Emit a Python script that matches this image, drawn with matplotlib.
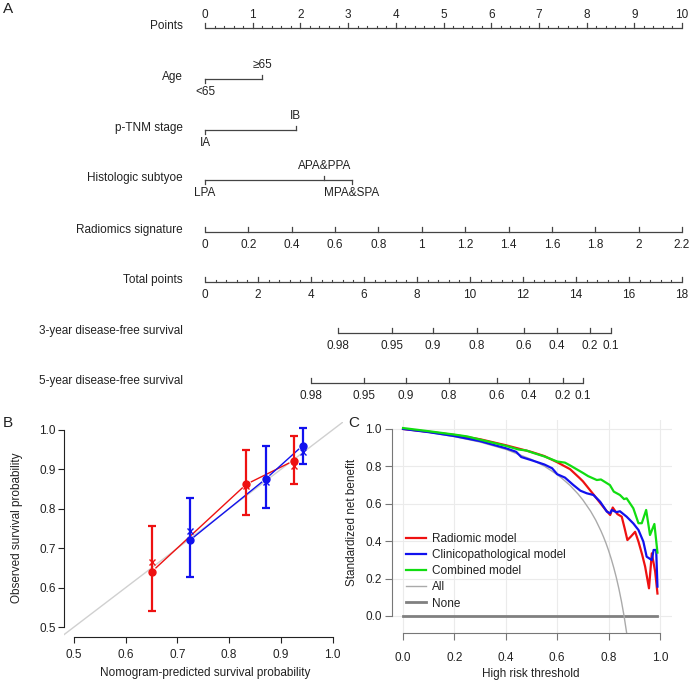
import matplotlib.pyplot as plt
import numpy as np

plt.rcParams['font.family'] = ['Liberation Sans', 'DejaVu Sans']
plt.rcParams['text.color'] = '#222222'
plt.rcParams['xtick.color'] = '#222222'
plt.rcParams['ytick.color'] = '#222222'

# ---------------- nomogram (A) ----------------
point_ticks = list(range(0, 11))
age_levels = ['<65', '≥65']
age_points = [0, 1.2]
tnm_levels = ['IA', 'IB']
tnm_points = [0, 1.9]
hist_levels = ['LPA', 'APA&PPA', 'MPA&SPA']
hist_points = [0, 2.5, 3.08]
rad_ticks = [0, 0.2, 0.4, 0.6, 0.8, 1, 1.2, 1.4, 1.6, 1.8, 2, 2.2]
rad_max = 2.2
rad_max_points = 10
total_ticks = [0, 2, 4, 6, 8, 10, 12, 14, 16, 18]
total_max = 18
dfs_labels = ['0.98', '0.95', '0.9', '0.8', '0.6', '0.4', '0.2', '0.1']
dfs3_total = [5.02, 7.06, 8.60, 10.26, 12.04, 13.28, 14.53, 15.32]
dfs5_total = [4.0, 6.0, 7.58, 9.21, 11.02, 12.23, 13.51, 14.26]

# ---------------- calibration (B) ----------------
red_pred = [0.651, 0.833, 0.925]
red_obs = [0.641, 0.862, 0.922]
red_lo = [0.541, 0.783, 0.864]
red_hi = [0.756, 0.949, 0.985]
red_corr = [0.665, 0.857, 0.908]
blue_pred = [0.724, 0.871, 0.942]
blue_obs = [0.720, 0.876, 0.960]
blue_lo = [0.626, 0.802, 0.914]
blue_hi = [0.828, 0.960, 1.006]
blue_corr = [0.743, 0.868, 0.945]

# ---------------- decision curves (C) ----------------
rad_x = [0, 0.1, 0.2, 0.3, 0.4, 0.45, 0.5, 0.55, 0.6, 0.65, 0.689, 0.7, 0.741, 0.773,
         0.79, 0.806, 0.816, 0.826, 0.834, 0.851, 0.862, 0.873, 0.886, 0.903, 0.916,
         0.93, 0.942, 0.957, 0.968, 0.981, 0.99]
rad_y = [1.0, 0.985, 0.968, 0.945, 0.913, 0.895, 0.877, 0.855, 0.822, 0.785, 0.735,
         0.72, 0.65, 0.594, 0.565, 0.54, 0.58, 0.56, 0.545, 0.531, 0.47, 0.406, 0.424,
         0.45, 0.398, 0.33, 0.264, 0.148, 0.335, 0.238, 0.12]
cli_x = [0, 0.1, 0.2, 0.3, 0.4, 0.44, 0.46, 0.5, 0.55, 0.58, 0.6, 0.63, 0.663, 0.69,
         0.715, 0.741, 0.767, 0.793, 0.806, 0.812, 0.83, 0.844, 0.87, 0.896, 0.916,
         0.935, 0.948, 0.968, 0.975, 0.985, 0.99]
cli_y = [1.0, 0.983, 0.962, 0.935, 0.897, 0.878, 0.85, 0.833, 0.81, 0.79, 0.758, 0.74,
         0.70, 0.67, 0.656, 0.647, 0.611, 0.558, 0.549, 0.567, 0.555, 0.56, 0.531, 0.495,
         0.46, 0.398, 0.317, 0.299, 0.353, 0.353, 0.157]
com_x = [0, 0.1, 0.2, 0.25, 0.3, 0.4, 0.45, 0.48, 0.5, 0.55, 0.6, 0.63, 0.65, 0.7, 0.72,
         0.754, 0.77, 0.805, 0.82, 0.844, 0.86, 0.87, 0.896, 0.916, 0.929, 0.946, 0.961,
         0.978, 0.99]
com_y = [1.005, 0.988, 0.97, 0.96, 0.943, 0.91, 0.89, 0.885, 0.875, 0.853, 0.826, 0.82,
         0.805, 0.765, 0.748, 0.727, 0.73, 0.70, 0.665, 0.647, 0.625, 0.629, 0.576, 0.496,
         0.496, 0.567, 0.433, 0.492, 0.339]
all_x = [0, 0.1, 0.2, 0.3, 0.4, 0.5, 0.55, 0.6, 0.62, 0.65, 0.68, 0.7, 0.73, 0.75, 0.77,
         0.78, 0.79, 0.8, 0.81, 0.82, 0.83, 0.84, 0.85, 0.86, 0.87, 0.875]
all_y = [1.0, 0.982, 0.959, 0.930, 0.891, 0.837, 0.801, 0.756, 0.734, 0.698, 0.654, 0.620,
         0.560, 0.512, 0.455, 0.423, 0.388, 0.349, 0.306, 0.258, 0.205, 0.145, 0.077, 0.0,
         -0.09, -0.14]
none_x = [0, 0.99]
none_y = [0, 0]
legend_labels = ['Radiomic model', 'Clinicopathological model', 'Combined model', 'All', 'None']

W, H = 691, 681
fig = plt.figure(figsize=(W / 100, H / 100), dpi=100)

# nomogram axes: x in points units, y in pixel rows
px_per_pt = 47.7
x0_px = 205
axn = fig.add_axes([0, 1 - 400 / H, 1, 400 / H])
axn.set_xlim(-x0_px / px_per_pt, (W - x0_px) / px_per_pt)
axn.set_ylim(400, 0)
axn.axis('off')

lc = '#444444'
fs = 8.5
label_x = (183 - x0_px) / px_per_pt
rows = [28, 79, 130, 180, 232, 282, 333, 383]


def row_label(y, text):
    axn.text(label_x, y - 2, text, ha='right', va='center', fontsize=fs)


def scale_axis(y, pos, labels, minor, above):
    axn.plot([min(pos), max(pos)], [y, y], color=lc, lw=0.9, solid_capstyle='butt')
    for p in pos:
        axn.plot([p, p], [y, y - 5], color=lc, lw=0.9)
    for p in minor:
        axn.plot([p, p], [y, y - 2.5], color=lc, lw=0.8)
    for p, t in zip(pos, labels):
        if above:
            axn.text(p, y - 13, t, ha='center', va='center', fontsize=fs)
        else:
            axn.text(p, y + 13, t, ha='center', va='center', fontsize=fs)


def cat_axis(y, pos, labels, up):
    axn.plot([min(pos), max(pos)], [y, y], color=lc, lw=0.9)
    for p, t, u in zip(pos, labels, up):
        if u:
            axn.plot([p, p], [y, y - 4], color=lc, lw=0.9)
            axn.text(p, y - 14, t, ha='center', va='center', fontsize=fs)
        else:
            axn.plot([p, p], [y, y + 4], color=lc, lw=0.9)
            axn.text(p, y + 13, t, ha='center', va='center', fontsize=fs)


# Points
row_label(rows[0], 'Points')
pminor = [p for p in np.arange(0, 10.01, 0.2) if abs(p - round(p)) > 1e-6]
scale_axis(rows[0], point_ticks, [str(p) for p in point_ticks], pminor, True)
# categorical
row_label(rows[1], 'Age')
cat_axis(rows[1], age_points, age_levels, [False, True])
row_label(rows[2], 'p-TNM stage')
cat_axis(rows[2], tnm_points, tnm_levels, [False, True])
row_label(rows[3], 'Histologic subtyoe')
cat_axis(rows[3], hist_points, hist_levels, [False, True, False])
# radiomics
row_label(rows[4], 'Radiomics signature')
rad_pos = [v / rad_max * rad_max_points for v in rad_ticks]
scale_axis(rows[4], rad_pos, [f'{v:g}' for v in rad_ticks], [], False)
# total points
row_label(rows[5], 'Total points')
tp_pos = [v / total_max * 10 for v in total_ticks]
tminor = [v / total_max * 10 for v in np.arange(0, 18.01, 0.4) if abs(v / 2 - round(v / 2)) > 1e-6]
scale_axis(rows[5], tp_pos, [str(v) for v in total_ticks], tminor, False)
# survival
row_label(rows[6], '3-year disease-free survival')
scale_axis(rows[6], [v / total_max * 10 for v in dfs3_total], dfs_labels, [], False)
row_label(rows[7], '5-year disease-free survival')
scale_axis(rows[7], [v / total_max * 10 for v in dfs5_total], dfs_labels, [], False)

# ---------------- B ----------------
axb = fig.add_axes([64 / W, 1 - 637 / H, 279 / W, 215 / H])
axb.set_xlim(0.481, 1.02)
axb.set_ylim(0.475, 1.02)
axb.plot([0.4, 1.1], [0.4, 1.1], color='#d0d0d0', lw=1, zorder=1)


def gapped(ax, xs, ys, color, gap=0.012):
    for i in range(len(xs) - 1):
        dx, dy = xs[i + 1] - xs[i], ys[i + 1] - ys[i]
        d = np.hypot(dx, dy)
        ux, uy = dx / d, dy / d
        ax.plot([xs[i] + ux * gap, xs[i + 1] - ux * gap],
                [ys[i] + uy * gap, ys[i + 1] - uy * gap], color=color, lw=1)


for pred, obs, lo, hi, corr, c in [(red_pred, red_obs, red_lo, red_hi, red_corr, '#ee1111'),
                                   (blue_pred, blue_obs, blue_lo, blue_hi, blue_corr, '#1111ee')]:
    obs_a = np.array(obs)
    axb.errorbar(pred, obs, yerr=[obs_a - np.array(lo), np.array(hi) - obs_a], fmt='o',
                 color=c, ms=5, elinewidth=1.6, capsize=3, capthick=1.6, zorder=3)
    axb.plot(pred, corr, 'x', color=c, ms=5, mew=1, zorder=3)
    gapped(axb, pred, obs, c)

for s in ['top', 'right']:
    axb.spines[s].set_visible(False)
axb.spines['left'].set_bounds(0.5, 1.0)
axb.spines['bottom'].set_bounds(0.5, 1.0)
axb.spines['left'].set_color('#222222')
axb.spines['bottom'].set_color('#222222')
axb.set_xticks([0.5, 0.6, 0.7, 0.8, 0.9, 1.0])
axb.set_yticks([0.5, 0.6, 0.7, 0.8, 0.9, 1.0])
axb.set_xticklabels(['0.5', '0.6', '0.7', '0.8', '0.9', '1.0'])
axb.set_yticklabels(['0.5', '0.6', '0.7', '0.8', '0.9', '1.0'])
axb.tick_params(axis='both', labelsize=8.5, length=4, color='#222222')
axb.tick_params(axis='x', pad=5)
axb.tick_params(axis='y', pad=2)
fig.text(17 / W, 1 - 528 / H, 'Observed survival probability', rotation=90,
         ha='center', va='center', fontsize=8.5)
fig.text(205 / W, 1 - 673 / H, 'Nomogram-predicted survival probability',
         ha='center', va='center', fontsize=8.5)

# ---------------- C ----------------
axc = fig.add_axes([392 / W, 1 - 633 / H, 279.6 / W, 213 / H])
axc.set_xlim(-0.043, 1.045)
axc.set_ylim(-0.091, 1.048)
grid_vals = [0, 0.2, 0.4, 0.6, 0.8, 1.0]
for g in grid_vals:
    axc.axvline(g, color='#ebebeb', lw=0.8, zorder=0)
    axc.axhline(g, color='#ebebeb', lw=0.8, zorder=0)
l_none, = axc.plot(none_x, none_y, color='#808080', lw=2, zorder=2)
l_all, = axc.plot(all_x, all_y, color='#aaaaaa', lw=1, zorder=2)
l_rad, = axc.plot(rad_x, rad_y, color='#ee1111', lw=1.6, zorder=3)
l_cli, = axc.plot(cli_x, cli_y, color='#1111ee', lw=1.6, zorder=3)
l_com, = axc.plot(com_x, com_y, color='#11dd11', lw=1.6, zorder=4)
axc.legend([l_rad, l_cli, l_com, l_all, l_none], legend_labels,
           loc='upper left', bbox_to_anchor=(406 / W, 1 - 533 / H), bbox_transform=fig.transFigure,
           frameon=False, fontsize=8.5, handlelength=1.7, handletextpad=0.5,
           labelspacing=0.35, borderpad=0, borderaxespad=0)
for s in ['top', 'right']:
    axc.spines[s].set_visible(False)
axc.spines['left'].set_bounds(0, 1.0)
axc.spines['bottom'].set_bounds(0, 1.0)
axc.spines['left'].set_color('#777777')
axc.spines['bottom'].set_color('#777777')
axc.set_xticks(grid_vals)
axc.set_yticks(grid_vals)
axc.set_xticklabels([f'{v:.1f}' for v in grid_vals])
axc.set_yticklabels([f'{v:.1f}' for v in grid_vals])
axc.tick_params(axis='both', labelsize=8.5, length=5, color='#777777')
axc.tick_params(axis='x', pad=9)
axc.tick_params(axis='y', pad=2.5)
fig.text(352 / W, 1 - 522 / H, 'Standardized net benefit', rotation=90,
         ha='center', va='center', fontsize=8.5)
fig.text(531 / W, 1 - 674 / H, 'High risk threshold', ha='center', va='center', fontsize=8.5)

# panel letters
fig.text(8 / W, 1 - 9 / H, 'A', ha='center', va='center', fontsize=11)
fig.text(8 / W, 1 - 423 / H, 'B', ha='center', va='center', fontsize=11)
fig.text(354 / W, 1 - 423 / H, 'C', ha='center', va='center', fontsize=11)

fig.savefig('out.png', dpi=100)
